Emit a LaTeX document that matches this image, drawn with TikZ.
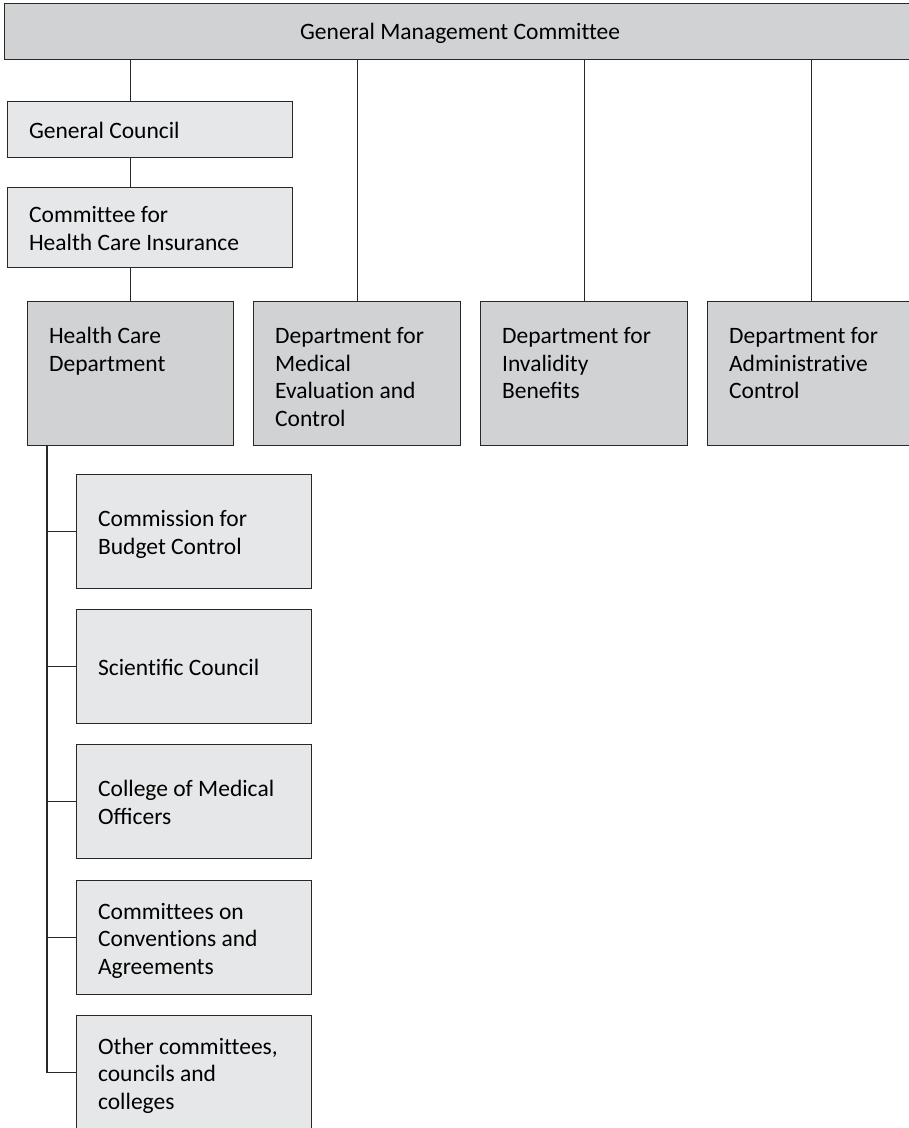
\documentclass[tikz,border=0pt]{standalone}
\usepackage{fontspec}
\setmainfont{Carlito}[RawFeature=-liga]
\usetikzlibrary{calc}

\definecolor{linec}{RGB}{40,40,40}
\definecolor{darkfill}{RGB}{209,210,212}
\definecolor{lightfill}{RGB}{230,231,232}

% cell contents: width, height, text (set flush left with a fixed indent)
\newcommand\topcell[3]{\parbox[c][#2][t]{#1}{\vspace*{23pt}\raggedright\leftskip=21.5pt\rightskip=0pt plus 1fil\strut #3\par}}
\newcommand\midcell[3]{\parbox[c][#2][c]{#1}{\vspace*{7pt}\raggedright\leftskip=21.5pt\rightskip=0pt plus 1fil\strut #3\strut\par}}
\newcommand\headcell[3]{\parbox[c][#2][c]{#1}{\vspace*{4pt}\centering\strut #3\strut\par}}

\tikzset{
  orgbox/.style={draw=linec, line width=1.2pt, inner sep=0pt, anchor=north west,
                 font=\fontsize{23.5}{27.5}\selectfont},
  hibox/.style={orgbox, fill=darkfill},
  lobox/.style={orgbox, fill=lightfill},
  link/.style={draw=linec, line width=1.2pt}
}

\begin{document}
\begin{tikzpicture}[x=1pt, y=-1pt]
  \useasboundingbox (0,0) rectangle (909,1128);
  \clip (0,0) rectangle (909,1128);

  % head of the organisation
  \node[hibox] (gmc) at (4,3) {\headcell{911pt}{56pt}{General Management Committee}};

  % councils above the health care branch
  \node[lobox] (gc) at (7,101) {\midcell{285pt}{56pt}{General Council}};
  \node[lobox] (chci) at (7,187) {\midcell{285pt}{80pt}{Committee for\\Health Care Insurance}};

  % departments
  \node[hibox] (hcd) at (27,301) {\topcell{206pt}{144pt}{Health Care\\Department}};
  \node[hibox] (dmec) at (253,301) {\topcell{207pt}{144pt}{Department for\\Medical\\Evaluation and\\Control}};
  \node[hibox] (dib) at (480,301) {\topcell{207pt}{144pt}{Department for\\Invalidity\\Beneﬁts}};
  \node[hibox] (dac) at (707,301) {\topcell{207pt}{144pt}{Department for\\Administrative\\Control}};

  % bodies under the health care department
  \node[lobox] (cbc) at (76,474) {\midcell{235pt}{114pt}{Commission for\\Budget Control}};
  \node[lobox] (sc) at (76,609) {\midcell{235pt}{114pt}{Scientiﬁc Council}};
  \node[lobox] (cmo) at (76,744) {\midcell{235pt}{114pt}{College of Medical\\Oﬃcers}};
  \node[lobox] (cca) at (76,880) {\midcell{235pt}{114pt}{Committees on\\Conventions and\\Agreements}};
  \node[lobox] (occ) at (76,1015) {\midcell{235pt}{114pt}{Other committees,\\councils and\\colleges}};

  % vertical chain on the left
  \draw[link] (gmc.south -| hcd.north) -- (gc.north -| hcd.north);
  \draw[link] (gc.south -| hcd.north) -- (chci.north -| hcd.north);
  \draw[link] (chci.south -| hcd.north) -- (hcd.north);

  % drops to the other departments
  \draw[link] (gmc.south -| dmec.north) -- (dmec.north);
  \draw[link] (gmc.south -| dib.north) -- (dib.north);
  \draw[link] (gmc.south -| dac.north) -- (dac.north);

  % spine of the health care department
  \coordinate (spine) at ($(hcd.south west)+(20,0)$);
  \draw[link] (spine) |- (occ.west);
  \foreach \b in {cbc,sc,cmo,cca}
    \draw[link] (spine |- \b.west) -- (\b.west);
\end{tikzpicture}
\end{document}
